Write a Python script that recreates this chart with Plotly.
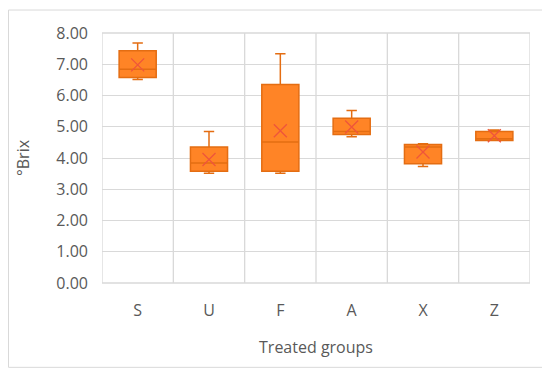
import plotly.graph_objects as go

groups = ["S", "U", "F", "A", "X", "Z"]
lower_fence = [6.51, 3.51, 3.51, 4.68, 3.73, 4.56]
q1 = [6.58, 3.58, 3.58, 4.75, 3.82, 4.56]
median = [6.84, 3.84, 4.51, 4.85, 4.35, 4.62]
q3 = [7.43, 4.35, 6.35, 5.27, 4.43, 4.85]
upper_fence = [7.68, 4.85, 7.34, 5.52, 4.46, 4.90]
means = [6.98, 3.95, 4.87, 4.99, 4.19, 4.71]
y_ticks = [0, 1, 2, 3, 4, 5, 6, 7, 8]

FONT = "Open Sans"
fill = "#FF8426"
line_c = "#E46D12"

# page body adds an 8px offset; figure sized to compensate
W, H = 542, 367
L, R, T, B = 94, 20, 25, 91.5
pw, ph = W - L - R, H - T - B

fig = go.Figure()
fig.add_trace(go.Box(
    x=groups, q1=q1, median=median, q3=q3,
    lowerfence=lower_fence, upperfence=upper_fence,
    fillcolor=fill, line=dict(color=line_c, width=1.5),
    width=0.52, whiskerwidth=0.28, boxpoints=False, showlegend=False,
    hoverinfo="skip",
))
fig.add_trace(go.Scatter(
    x=groups, y=means, mode="markers",
    marker=dict(symbol="x-thin-open", size=13, line=dict(color="#D9600E", width=1.3)),
    showlegend=False, hoverinfo="skip",
))

fig.update_layout(
    width=W, height=H,
    margin=dict(l=L, r=R, t=T, b=B),
    paper_bgcolor="white", plot_bgcolor="white",
    font=dict(family=FONT, color="#595959", size=16),
    xaxis=dict(
        type="category", categoryorder="array", categoryarray=groups,
        showgrid=False, showline=False, zeroline=False, automargin=False,
        ticks="", ticklabelstandoff=16, range=[-0.5, 5.5],
        title=dict(text="Treated groups", font=dict(size=16, color="#595959"), standoff=21),
    ),
    yaxis=dict(
        range=[0, 8], tickvals=y_ticks, tickformat=".2f", automargin=False,
        showgrid=True, gridcolor="#D9D9D9", gridwidth=1.3,
        zeroline=False, showline=False, ticks="", ticklabelstandoff=13,
        title=dict(text="°Brix", font=dict(size=16, color="#595959"), standoff=22),
    ),
    shapes=[
        *[dict(type="line", xref="x", yref="paper", x0=i - 0.5, x1=i - 0.5, y0=0, y1=1,
               line=dict(color="#D9D9D9", width=1.3), layer="below") for i in range(len(groups) + 1)],
        dict(type="line", xref="paper", yref="paper", x0=0, x1=1, y0=0, y1=0,
             line=dict(color="#D9D9D9", width=1.3), layer="below"),
        dict(type="line", xref="paper", yref="paper", x0=0, x1=1, y0=1, y1=1,
             line=dict(color="#D9D9D9", width=1.3), layer="below"),
        dict(type="rect", xref="paper", yref="paper",
             x0=(0.5 - L) / pw, x1=(540 - L) / pw,
             y0=(H - B - 360) / ph, y1=(H - B - 2) / ph,
             line=dict(color="#D9D9D9", width=1), layer="below"),
    ],
)

fig.write_html("out.html")
